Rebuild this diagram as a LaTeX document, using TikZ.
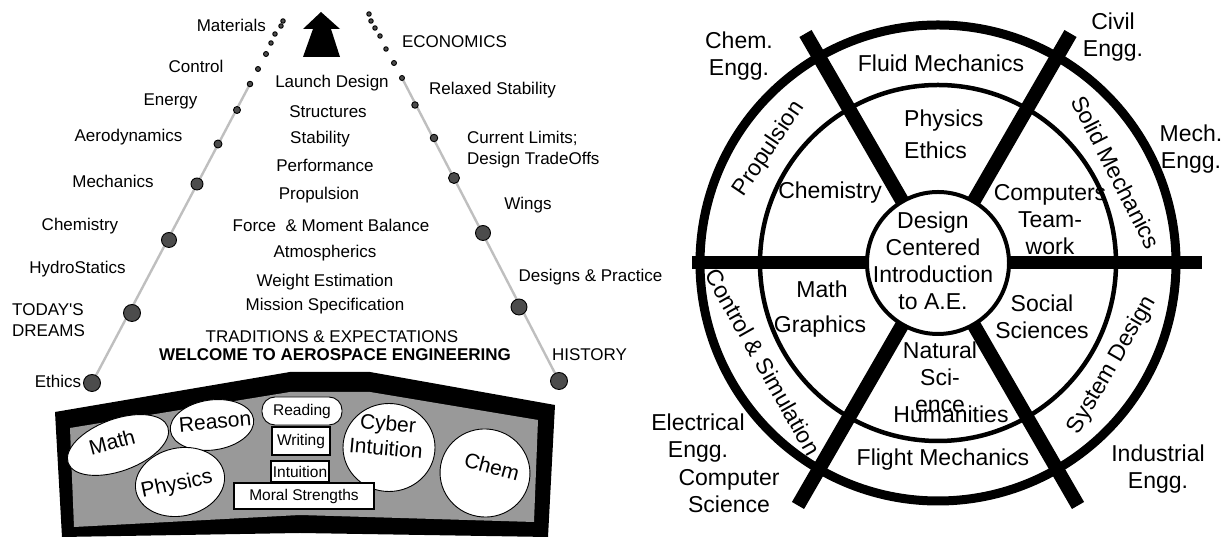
\documentclass[tikz,border=0pt]{standalone}
\usepackage{fontspec}
\setmainfont{Liberation Sans}
\usepackage{tikz}
\usetikzlibrary{arrows,shapes.geometric}

\begin{document}
\begin{tikzpicture}[x=1pt,y=1pt,
                    label node/.style={inner sep=0pt,font=\fontsize{17}{21}\selectfont},
                    dot node/.style={circle,draw,fill=black!70,line width=0.9pt,inner sep=0pt},
                    rail/.style={draw=black!25,line width=2.4pt},
                    bubble node/.style={ellipse,draw,fill=white,line width=0.9pt,inner sep=0pt},
                    bubble text/.style={inner sep=0pt,align=center,font=\fontsize{21}{25}\selectfont},
                    skill box/.style={draw,fill=white,line width=1.6pt,inner sep=0pt,font=\fontsize{15.5}{18}\selectfont},
                    wheel text/.style={inner sep=0pt,align=center,font=\fontsize{23}{27}\selectfont},
                    spoke/.style={line width=14pt}]

\useasboundingbox (0,0) rectangle (1227,537);

% left panel: the climb
\fill (321,525) -- (340,508) -- (331,508) -- (340,480) -- (303,480) -- (313,508) -- (303,508) -- cycle;

\coordinate (left foot) at (92,154);
\coordinate (left top) at (250,453);
\coordinate (right foot) at (559,156);
\coordinate (right top) at (402,459);
\draw[rail] (left foot) -- (left top);
\draw[rail] (right foot) -- (right top);

\node[dot node,minimum size=17pt] (l1) at (92,154) {};
\node[dot node,minimum size=17pt] (l2) at (132,224) {};
\node[dot node,minimum size=15pt] (l3) at (169,297) {};
\node[dot node,minimum size=12pt] (l4) at (197,353) {};
\node[dot node,minimum size=8pt] (l5) at (218,393) {};
\node[dot node,minimum size=7pt] (l6) at (237,427) {};
\node[dot node,minimum size=5.5pt] (l7) at (250,453) {};
\node[dot node,minimum size=5pt] (l8) at (258,468) {};
\node[dot node,minimum size=5pt] (l9) at (266,483) {};
\node[dot node,minimum size=4.5pt] (l10) at (271,494) {};
\node[dot node,minimum size=4.5pt] (l11) at (275,503) {};
\node[dot node,minimum size=4.5pt] (l12) at (281,511) {};
\node[dot node,minimum size=4.5pt] (l13) at (283,516) {};

\node[dot node,minimum size=17pt] (r1) at (559,156) {};
\node[dot node,minimum size=16pt] (r2) at (519,230) {};
\node[dot node,minimum size=15pt] (r3) at (483,304) {};
\node[dot node,minimum size=11pt] (r4) at (454,359) {};
\node[dot node,minimum size=7.5pt] (r5) at (434,399) {};
\node[dot node,minimum size=6.5pt] (r6) at (415,432) {};
\node[dot node,minimum size=5pt] (r7) at (402,459) {};
\node[dot node,minimum size=5pt] (r8) at (394,474) {};
\node[dot node,minimum size=4.5pt] (r9) at (386,488) {};
\node[dot node,minimum size=4.5pt] (r10) at (380,501) {};
\node[dot node,minimum size=4.5pt] (r11) at (375,509) {};
\node[dot node,minimum size=4.5pt] (r12) at (371,516) {};
\node[dot node,minimum size=4.5pt] (r13) at (369,523) {};

\node[label node,anchor=east] (materials) at (266,512) {Materials};
\node[label node] (control) at (196,471) {Control};
\node[label node] (energy) at (170.5,436) {Energy};
\node[label node] (aero) at (128.5,400) {Aerodynamics};
\node[label node] (mechanics) at (113,356) {Mechanics};
\node[label node] (chemistry) at (80,311) {Chemistry};
\node[label node] (hydro) at (77.5,268) {HydroStatics};
\node[label node,anchor=west,align=left] (dreams) at (12,216.5) {TODAY\textquotesingle S\\DREAMS};
\node[label node] (ethics) at (58,156) {Ethics};

\node[label node] (launch) at (332,454) {Launch Design};
\node[label node] (structures) at (328,425) {Structures};
\node[label node] (stability) at (320,398) {Stability};
\node[label node] (performance) at (325,372) {Performance};
\node[label node] (propulsion) at (319,342) {Propulsion};
\node[label node] (balance) at (331,312) {Force\ \ \& Moment Balance};
\node[label node] (atmos) at (325,284) {Atmospherics};
\node[label node] (weight) at (325,255) {Weight Estimation};
\node[label node] (mission) at (325,231) {Mission Specification};
\node[label node] (traditions) at (332,200) {TRADITIONS \& EXPECTATIONS};
\node[label node,font=\fontsize{17}{21}\selectfont\bfseries] (welcome) at (335,182) {WELCOME TO AEROSPACE ENGINEERING};

\node[label node] (economics) at (454.5,495) {ECONOMICS};
\node[label node] (relaxed) at (492.5,447) {Relaxed Stability};
\node[label node,anchor=west,align=left] (limits) at (467,387) {Current Limits;\\Design TradeOffs};
\node[label node] (wings) at (528,332) {Wings};
\node[label node] (practice) at (590.5,260) {Designs \& Practice};
\node[label node] (history) at (589.5,182) {HISTORY};

% the tray of basics
\fill (55,125) -- (290,165) -- (370,165) -- (555,132) -- (548,0) -- (300,4) -- (62,0) -- cycle;
\fill[black!40] (70,109) -- (290,145) -- (370,145) -- (538,117) -- (534,15) -- (300,22) -- (74,10) -- cycle;

\node[bubble node,minimum width=106pt,minimum height=52pt,rotate=20] (math) at (118,92) {};
\node[bubble text,rotate=15] (math text) at (112,95) {Math};
\node[bubble node,minimum width=84pt,minimum height=50pt,rotate=8] (reason) at (212,112) {};
\node[bubble text,rotate=5] (reason text) at (215,115) {Reason};
\node[bubble node,minimum width=90pt,minimum height=68pt,rotate=12] (physics) at (180,55) {};
\node[bubble text,rotate=12] (physics text) at (177,52) {Physics};
\node[bubble node,minimum width=92pt,minimum height=88pt] (cyber) at (389,89.5) {};
\node[bubble text,rotate=-5] (cyber text) at (387,101.5) {Cyber\\Intuition};
\node[bubble node,minimum width=90pt,minimum height=88pt,rotate=-10] (chem) at (485,64) {};
\node[bubble text,rotate=-15] (chem text) at (492,70) {Chem};

\node[skill box,line width=0.9pt,rounded corners=13pt,minimum width=80pt,minimum height=28pt] (reading) at (302,126) {Reading};
\node[skill box,minimum width=58pt,minimum height=28pt] (writing) at (301,96) {Writing};
\node[skill box,minimum width=58pt,minimum height=21pt] (intuition) at (300,65.5) {Intuition};
\node[skill box,line width=1.2pt,minimum width=140pt,minimum height=26pt] (moral) at (304,41) {Moral Strengths};

% right panel: the wheel
\begin{scope}[shift={(938,274)}]
\draw[line width=9pt] (0,0) circle[radius=238];
\draw[line width=4.5pt] (0,0) circle[radius=178];
\draw[line width=13pt] (-246,0) -- (264,0);
\draw[spoke] (60:60) -- (60:265);
\draw[spoke] (120:60) -- (120:265);
\draw[spoke] (240:60) -- (240:280);
\draw[spoke] (300:60) -- (300:280);
\node[circle,draw,fill=white,line width=4pt,minimum size=142pt,inner sep=0pt] (hub) at (0,0) {};

\node[wheel text] (hub text) at (-5,2) {Design\\Centered\\Introduction\\to A.E.};
\node[wheel text] (fluid) at (3,200) {Fluid Mechanics};
\node[wheel text,anchor=west,align=left] (ethics ring) at (-34,129) {Physics\\[5pt]Ethics};
\node[wheel text] (chem ring) at (-108,70) {Chemistry};
\node[wheel text] (computers) at (112,43) {Computers\\Team-\\work};
\node[wheel text] (math ring) at (-116,-26) {Math};
\node[wheel text] (graphics) at (-118,-64) {Graphics};
\node[wheel text] (social) at (104,-53.5) {Social\\Sciences};
\node[wheel text] (natural) at (2,-114) {Natural\\Sci-\\ence};
\node[wheel text] (humanities) at (13,-151) {Humanities};
\node[wheel text] (flight) at (5,-197) {Flight Mechanics};

\node[wheel text,rotate=56] (propulsion ring) at (146:204) {Propulsion};
\node[wheel text,rotate=-63] (solid) at (27:200) {Solid Mechanics};
\node[wheel text,rotate=-60.5] (control ring) at (209.5:201) {Control \& Simulation};
\node[wheel text,rotate=60] (system) at (-30.4:202) {System Design};

\node[wheel text] (chem engg) at (-199,206.5) {Chem.\\Engg.};
\node[wheel text] (civil engg) at (175,226) {Civil\\Engg.};
\node[wheel text] (mech engg) at (253,113.5) {Mech.\\Engg.};
\node[wheel text] (elec engg) at (-240,-175.5) {Electrical\\Engg.};
\node[wheel text] (cs) at (-209,-228.5) {Computer\\Science};
\node[wheel text] (ind engg) at (220,-206.5) {Industrial\\Engg.};
\end{scope}
\end{tikzpicture}
\end{document}
